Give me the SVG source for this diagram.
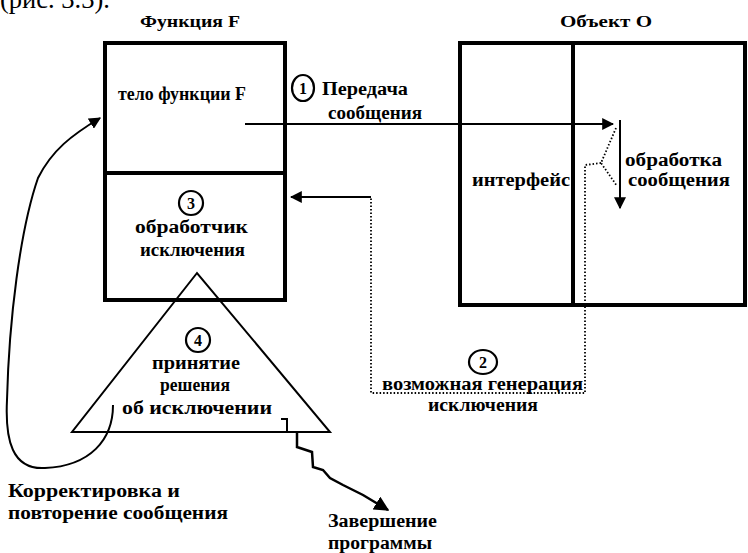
<svg xmlns="http://www.w3.org/2000/svg" width="748" height="553" viewBox="0 0 748 553">
<style>
  .t { font-family: "Liberation Serif", "DejaVu Serif", serif; font-weight: bold; font-size: 18.5px; fill: #000; }
  .n { font-family: "Liberation Serif", "DejaVu Serif", serif; font-weight: bold; font-size: 16px; fill: #000; text-anchor: middle; }
  .box { fill: #fff; stroke: #000; stroke-width: 4; }
  .thin { fill: none; stroke: #000; stroke-width: 2; }
  .dot { fill: none; stroke: #000; stroke-width: 1.8; stroke-dasharray: 1.5 2; }
  .circ { fill: none; stroke: #000; stroke-width: 2.2; }
</style>
<defs>
  <marker id="ah" viewBox="0 0 10 10" refX="9" refY="5" markerWidth="6" markerHeight="6" orient="auto" markerUnits="strokeWidth">
    <path d="M0,0 L10,5 L0,10 z" fill="#000"/>
  </marker>
</defs>
<rect width="748" height="553" fill="#fff"/>
<text x="0" y="8" style="font-family:'Liberation Serif',serif;font-size:28px" textLength="110" lengthAdjust="spacingAndGlyphs">(рис. 3.3).</text>

<g id="node-function">
  <text class="t" x="140" y="27" textLength="100" lengthAdjust="spacingAndGlyphs" style="font-size:16px">Функция F</text>
  <rect class="box" x="105" y="43" width="180" height="257"/>
  <line x1="105" y1="173" x2="285" y2="173" stroke="#000" stroke-width="4"/>
  <text class="t" x="118" y="100" textLength="128" lengthAdjust="spacingAndGlyphs">тело функции F</text>
  <ellipse class="circ" cx="191" cy="203" rx="12" ry="12"/>
  <text class="n" x="191" y="209">3</text>
  <text class="t" x="135" y="233" textLength="113" lengthAdjust="spacingAndGlyphs">обработчик</text>
  <text class="t" x="140" y="256" textLength="105" lengthAdjust="spacingAndGlyphs">исключения</text>
</g>

<g id="node-object">
  <text class="t" x="560" y="27" textLength="92" lengthAdjust="spacingAndGlyphs" style="font-size:16px">Объект О</text>
  <rect class="box" x="460" y="43" width="285" height="262"/>
  <line x1="573" y1="43" x2="573" y2="305" stroke="#000" stroke-width="4"/>
  <text class="t" x="472" y="186" textLength="98" lengthAdjust="spacingAndGlyphs">интерфейс</text>
  <text class="t" x="625" y="166" textLength="97" lengthAdjust="spacingAndGlyphs">обработка</text>
  <text class="t" x="628" y="186" textLength="102" lengthAdjust="spacingAndGlyphs">сообщения</text>
</g>

<g id="node-decision">
  <polygon class="thin" points="197,273 72,432 330,432"/>
  <ellipse class="circ" cx="198" cy="340" rx="12" ry="12"/>
  <text class="n" x="198" y="346">4</text>
  <text class="t" x="152" y="369" textLength="88" lengthAdjust="spacingAndGlyphs">принятие</text>
  <text class="t" x="160" y="391" textLength="70" lengthAdjust="spacingAndGlyphs">решения</text>
  <text class="t" x="122" y="414" textLength="150" lengthAdjust="spacingAndGlyphs">об исключении</text>
  <path class="thin" d="M281,419 L287,419 L287,432"/>
</g>

<g id="connectors">
  <line x1="245" y1="124" x2="613" y2="124" stroke="#000" stroke-width="2" marker-end="url(#ah)"/>
  <line x1="620" y1="120" x2="620" y2="208" stroke="#000" stroke-width="2" marker-end="url(#ah)"/>
  <polyline class="dot" points="616,128 601,163 617,186"/>
  <polyline class="dot" points="601,163 585,165 585,393 371,393 371,197"/>
  <line x1="371" y1="197" x2="291" y2="197" stroke="#000" stroke-width="2" marker-end="url(#ah)"/>
  <path class="thin" d="M113,405 C113,440 90,466 45,468 C12,470 5,440 7,400 C9,320 20,230 38,178 C52,150 72,135 100,118" marker-end="url(#ah)"/>
  <path d="M297,432 L297,447 L312,452 L313,467 L323,470 L330,478 L343,485 L363,495 L388,510" fill="none" stroke="#000" stroke-width="2.5" marker-end="url(#ah)"/>
</g>

<g id="labels">
  <ellipse class="circ" cx="303" cy="88" rx="11" ry="13"/>
  <text class="n" x="303" y="94">1</text>
  <text class="t" x="322" y="95" textLength="86" lengthAdjust="spacingAndGlyphs">Передача</text>
  <text class="t" x="328" y="119" textLength="94" lengthAdjust="spacingAndGlyphs">сообщения</text>
  <ellipse class="circ" cx="483" cy="362" rx="14" ry="12"/>
  <text class="n" x="483" y="368">2</text>
  <text class="t" x="382" y="390" textLength="201" lengthAdjust="spacingAndGlyphs">возможная генерация</text>
  <text class="t" x="428" y="411" textLength="110" lengthAdjust="spacingAndGlyphs">исключения</text>
  <text class="t" x="8" y="497" textLength="172" lengthAdjust="spacingAndGlyphs">Корректировка и</text>
  <text class="t" x="8" y="519" textLength="220" lengthAdjust="spacingAndGlyphs">повторение сообщения</text>
  <text class="t" x="328" y="527" textLength="109" lengthAdjust="spacingAndGlyphs">Завершение</text>
  <text class="t" x="328" y="549" textLength="104" lengthAdjust="spacingAndGlyphs">программы</text>
</g>
</svg>
